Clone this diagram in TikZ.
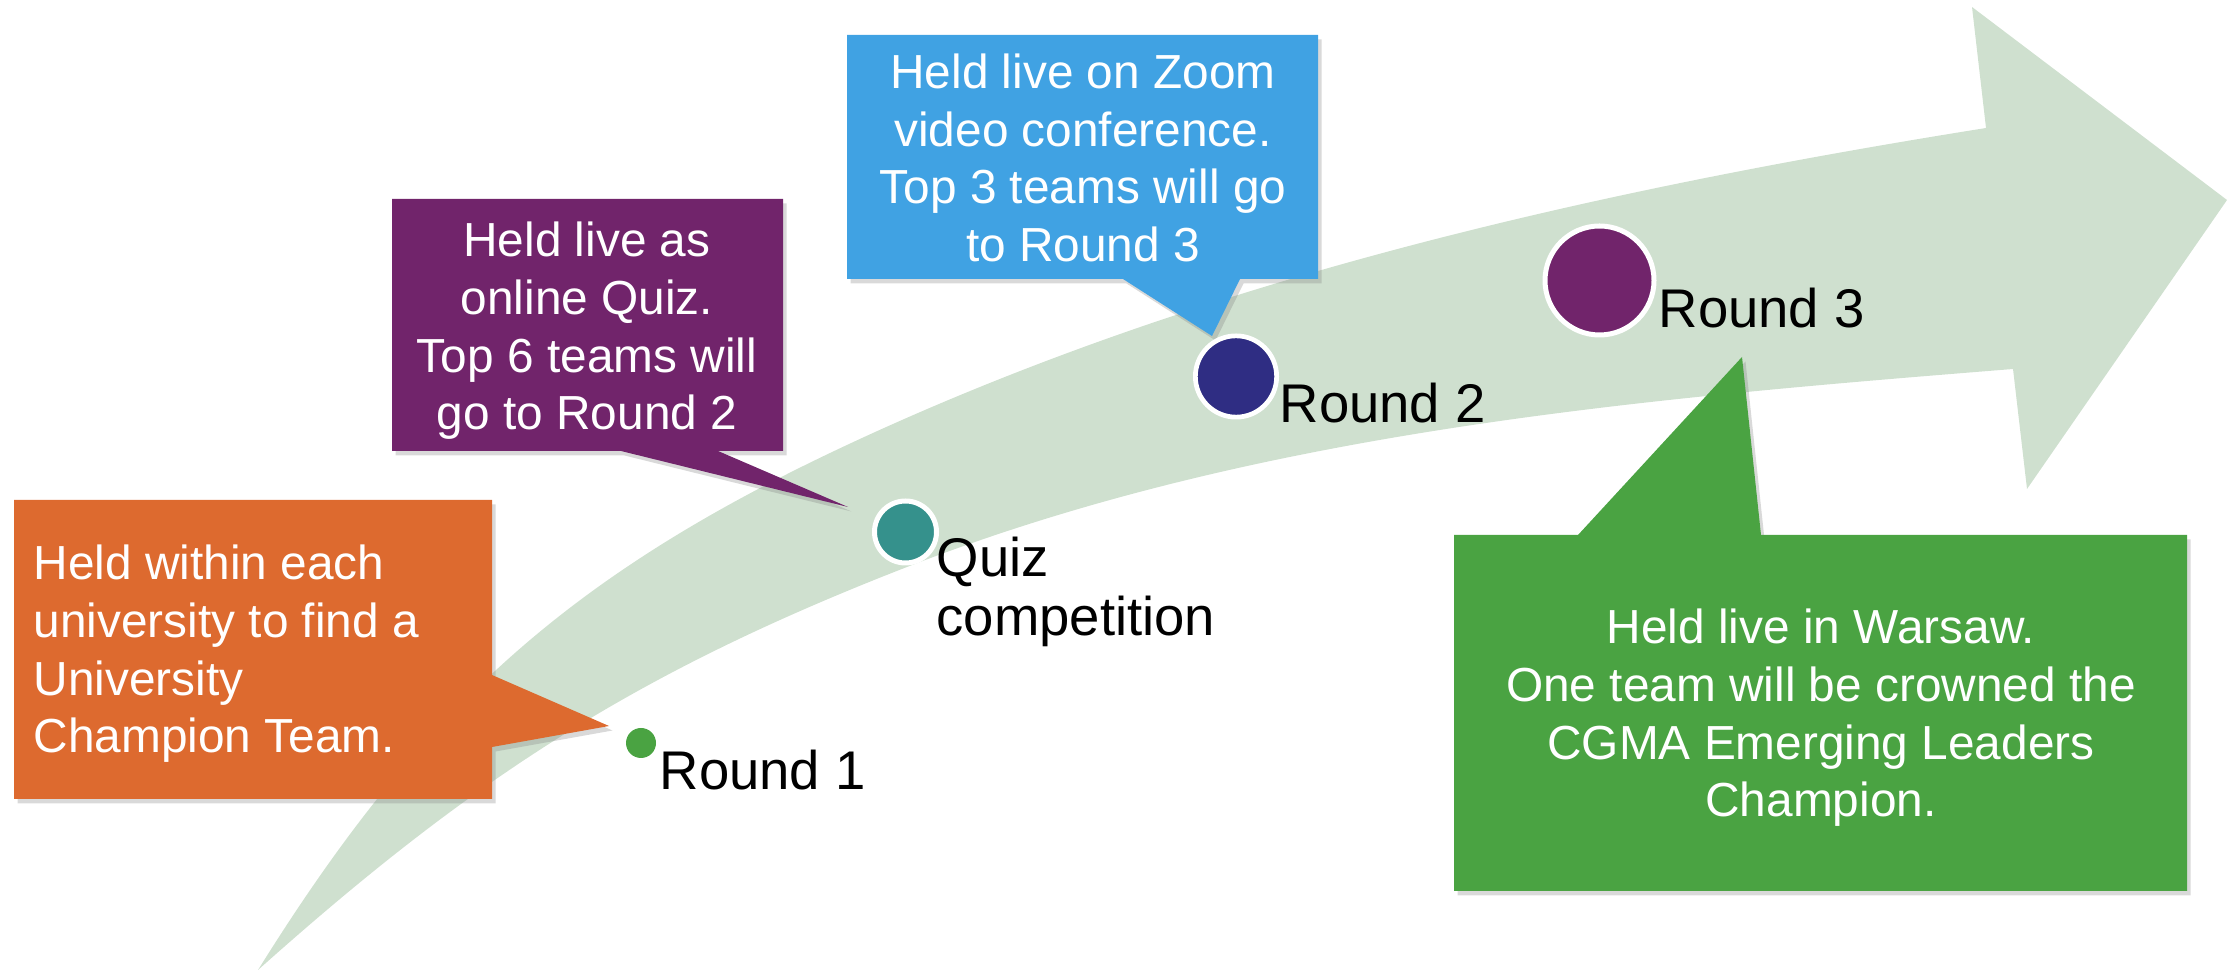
\documentclass[tikz,border=0pt]{standalone}
\usepackage{fontspec}
\setmainfont{Liberation Sans}
\usetikzlibrary{shadows}
\definecolor{bandC}{RGB}{207,224,207}
\definecolor{orangeC}{RGB}{221,106,47}
\definecolor{purpleC}{RGB}{113,36,107}
\definecolor{blueC}{RGB}{64,162,227}
\definecolor{greenC}{RGB}{74,163,66}
\definecolor{tealC}{RGB}{53,145,140}
\definecolor{navyC}{RGB}{47,45,131}
\begin{document}
\begin{tikzpicture}[x=0.1mm,y=-0.1mm,
  callout/.style={drop shadow={opacity=0.3,shadow xshift=0.35mm,shadow yshift=-0.45mm}},
  ctext/.style={text=white,align=center,inner sep=0pt,font=\fontsize{13.6}{16.5}\selectfont},
  rlabel/.style={text=black,inner sep=0pt,font=\fontsize{15.5}{16.8}\selectfont},
  dot/.style={circle,draw=white,inner sep=0pt}]
\useasboundingbox (0,0) rectangle (2229,970);

% curved arrow band
\fill[bandC] (258,970)
  .. controls (417,715) and (560,582) .. (830,453)
  .. controls (1191,281) and (1591,191) .. (1986,128)
  -- (1972,7) -- (2227,200) -- (2027,489) -- (2013,369)
  .. controls (1639,399) and (1257,431) .. (907,567)
  .. controls (637,672) and (474,777) .. (258,970)
  -- cycle;

% callouts
\fill[orangeC,callout] (14,500) -- (492,500) -- (492,675) -- (609,726) -- (492,747) -- (492,799) -- (14,799) -- cycle;
\fill[purpleC,callout] (392,199) -- (783,199) -- (783,451) -- (718,451) -- (848,507) -- (621,451) -- (392,451) -- cycle;
\fill[blueC,callout] (847,35) -- (1318,35) -- (1318,279) -- (1240,279) -- (1212,336) -- (1123,279) -- (847,279) -- cycle;
\fill[greenC,callout] (1454,535) -- (1578,535) -- (1742,357) -- (1761,535) -- (2187,535) -- (2187,891) -- (1454,891) -- cycle;

% dots
\node[dot,fill=greenC,draw=none,minimum size=3mm] (d1) at (641,743) {};
\node[dot,fill=tealC,line width=0.5mm,minimum size=6.2mm] (dq) at (905.5,532) {};
\node[dot,fill=navyC,line width=0.47mm,minimum size=8.13mm] (d2) at (1236,376.5) {};
\node[dot,fill=purpleC,line width=0.5mm,minimum size=10.9mm] (d3) at (1599.5,280.5) {};

% callout texts (base anchor = baseline of last line)
\node[ctext,align=left,anchor=base west] (t1) at (33,753) {Held within each\\university to find a\\University\\Champion Team.};
\node[ctext,anchor=base] (t2) at (587,430) {Held live as\\online Quiz.\\Top 6 teams will\\go to Round 2};
\node[ctext,anchor=base] (t3) at (1083,262) {Held live on Zoom\\video conference.\\Top 3 teams will go\\to Round 3};
\node[ctext,anchor=base] (t4) at (1821,817) {Held live in Warsaw.\\One team will be crowned the\\CGMA Emerging Leaders\\Champion.};

% round labels
\node[rlabel,anchor=base west] (l1) at (659,790) {Round 1};
\node[rlabel,anchor=base west,align=left] (lq) at (936,636) {Quiz\\competition};
\node[rlabel,anchor=base west] (l2) at (1279,423) {Round 2};
\node[rlabel,anchor=base west] (l3) at (1658,328) {Round 3};
\end{tikzpicture}
\end{document}
